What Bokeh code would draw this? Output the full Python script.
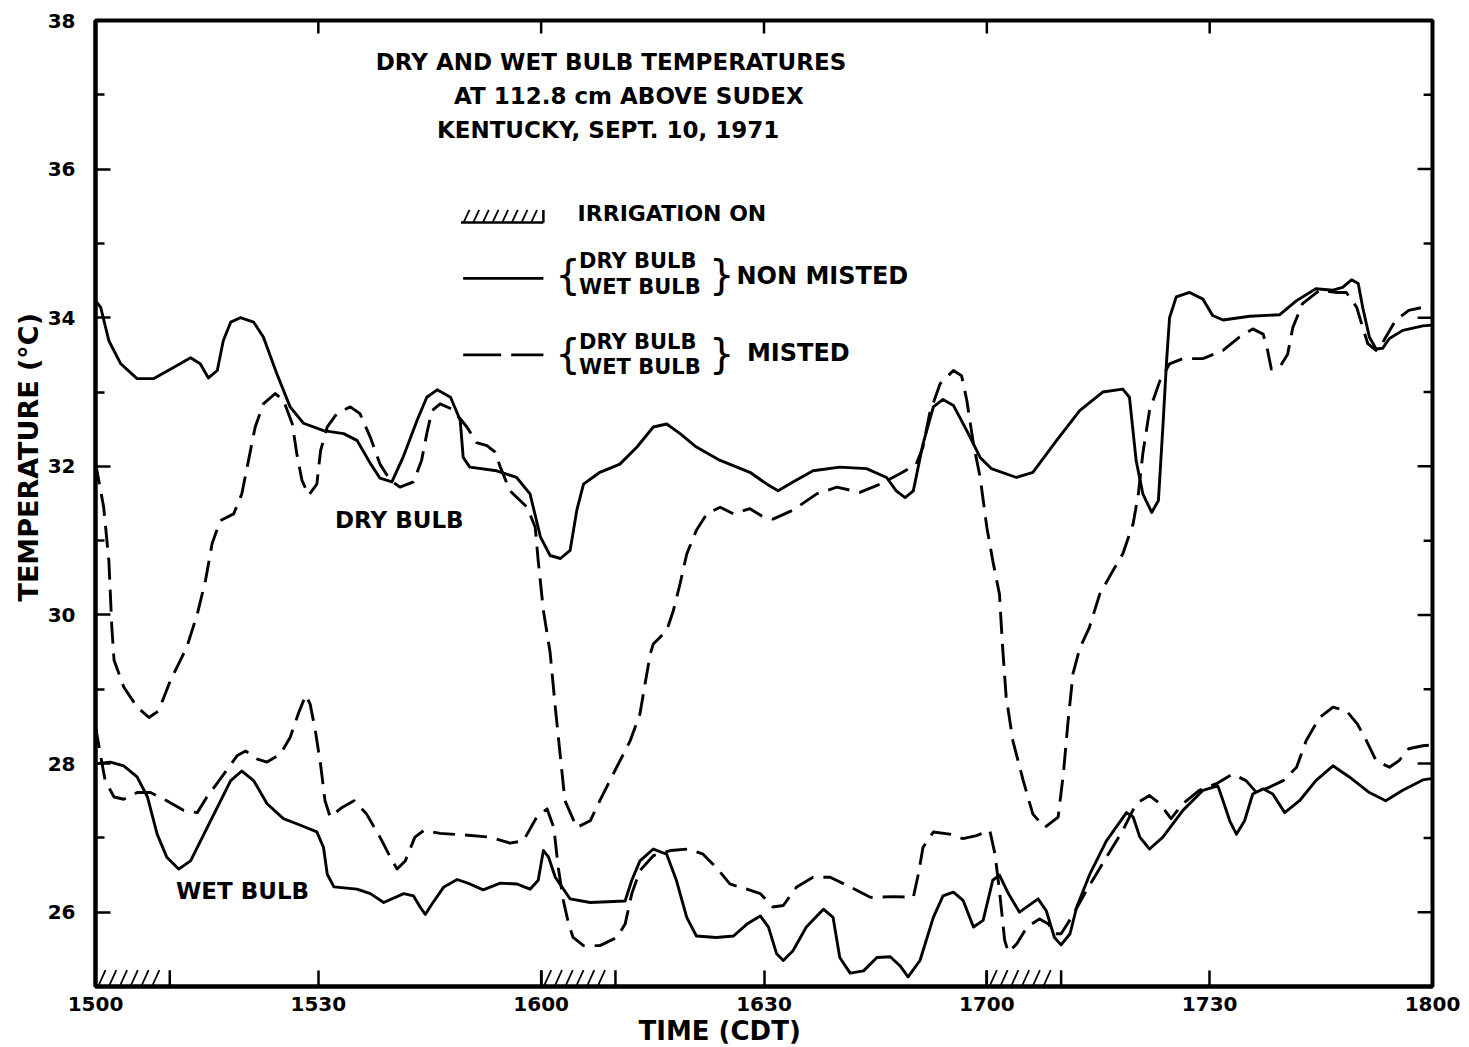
import numpy as np
from bokeh.plotting import figure
from bokeh.models import Range1d, FixedTicker, Label, Title
from bokeh.embed import file_html
from bokeh.resources import INLINE

# ---- data (time in minutes after 15:00 CDT, temperature in deg C) ----
dry_non_t = [0, 0.7, 1.8, 3.4, 5.6, 7.8, 10.5, 12.8, 14.1, 15.2, 16.4, 17.2, 18.2, 19.5, 21.3, 22.6,
             24.4, 26.2, 28.0, 30.7, 33.4, 35.2, 37.0, 38.3, 39.9, 41.4, 43.3, 44.6, 46.0, 47.8, 49.1,
             49.5, 50.4, 54.0, 56.7, 58.5, 59.9, 61.2, 62.6, 63.9, 64.8, 65.7, 67.9, 70.6, 72.9, 75.1,
             76.9, 78.7, 80.9, 84.1, 88.1, 90.4, 91.9, 93.9, 96.6, 100.2, 103.8, 106.5, 107.8, 109.0,
             110.1, 111.4, 112.8, 114.1, 115.5, 117.3, 119.1, 120.6, 124.0, 126.2, 129.4, 132.5, 135.6,
             138.3, 139.2, 140.1, 141.0, 142.2, 143.1, 143.7, 144.2, 144.6, 145.5, 147.3, 149.1, 150.4,
             151.8, 155.4, 159.4, 161.7, 164.3, 166.6, 167.9, 169.1, 170.0, 170.6, 171.5, 172.4, 173.3,
             174.2, 176.0, 178.7, 180]
dry_non_T = [34.23, 34.14, 33.69, 33.38, 33.18, 33.18, 33.33, 33.46, 33.38, 33.19, 33.29, 33.69, 33.94,
             34.00, 33.94, 33.74, 33.25, 32.80, 32.58, 32.48, 32.44, 32.35, 32.04, 31.84, 31.79, 32.12,
             32.62, 32.93, 33.03, 32.93, 32.62, 32.12, 31.99, 31.94, 31.85, 31.63, 31.05, 30.80, 30.76,
             30.87, 31.41, 31.76, 31.92, 32.03, 32.26, 32.53, 32.57, 32.44, 32.26, 32.08, 31.92, 31.76,
             31.67, 31.79, 31.94, 31.99, 31.97, 31.85, 31.67, 31.58, 31.67, 32.30, 32.80, 32.90, 32.82,
             32.48, 32.12, 31.97, 31.85, 31.92, 32.35, 32.75, 33.00, 33.04, 32.93, 32.08, 31.63, 31.38,
             31.54, 32.53, 33.42, 34.00, 34.28, 34.34, 34.25, 34.03, 33.97, 34.02, 34.04, 34.23, 34.39,
             34.37, 34.41, 34.51, 34.46, 34.14, 33.74, 33.58, 33.59, 33.72, 33.83, 33.89, 33.90]

dry_mist_t = [0, 1.1, 1.8, 2.0, 2.2, 2.5, 3.8, 5.6, 7.2, 8.5, 10.1, 12.3, 13.7, 14.8, 15.7, 16.8, 18.6,
              19.7, 20.6, 21.5, 22.6, 24.2, 25.3, 26.5, 27.1, 27.8, 28.7, 29.8, 30.3, 31.2, 32.5, 34.3,
              35.6, 37.0, 38.3, 39.7, 41.0, 42.8, 43.9, 44.6, 45.3, 46.4, 48.0, 49.1, 50.0, 51.3, 52.7,
              53.8, 54.5, 55.8, 58.1, 59.2, 59.6, 60.3, 61.2, 61.9, 62.6, 63.2, 64.8, 66.6, 67.9, 69.7,
              72.0, 73.3, 74.0, 74.7, 75.1, 76.9, 77.8, 78.7, 79.6, 80.9, 82.3, 84.1, 85.9, 88.1, 89.9,
              91.2, 93.9, 97.1, 99.8, 102.9, 105.6, 108.3, 110.5, 111.4, 112.3, 113.7, 115.5, 116.6,
              117.3, 118.2, 119.1, 120.0, 120.8, 121.7, 122.1, 122.6, 123.5, 124.9, 126.2, 127.8, 129.6,
              130.3, 130.9, 131.6, 132.5, 133.8, 135.2, 137.0, 138.3, 139.7, 140.4, 141.0, 141.9, 143.3,
              144.6, 146.4, 149.1, 151.8, 154.0, 155.8, 157.2, 157.8, 158.3, 159.4, 160.5, 161.2, 162.5,
              164.8, 167.1, 168.4, 169.8, 170.6, 171.3, 172.4, 173.3, 175.0, 176.8, 178.7, 180]
dry_mist_T = [32.05, 31.45, 30.73, 30.28, 29.83, 29.39, 29.03, 28.76, 28.62, 28.71, 29.12, 29.57, 30.01,
              30.46, 30.96, 31.27, 31.36, 31.63, 32.08, 32.53, 32.84, 32.98, 32.89, 32.57, 32.17, 31.81,
              31.61, 31.76, 32.21, 32.53, 32.71, 32.80, 32.71, 32.39, 32.03, 31.81, 31.72, 31.79, 32.08,
              32.44, 32.75, 32.84, 32.77, 32.64, 32.53, 32.32, 32.28, 32.19, 31.99, 31.67, 31.45, 31.18,
              30.73, 30.06, 29.50, 28.76, 28.08, 27.50, 27.14, 27.23, 27.50, 27.86, 28.31, 28.67, 29.08,
              29.48, 29.61, 29.79, 30.06, 30.42, 30.82, 31.14, 31.36, 31.45, 31.36, 31.43, 31.32, 31.29,
              31.41, 31.63, 31.72, 31.65, 31.76, 31.90, 32.03, 32.26, 32.71, 33.11, 33.29, 33.22, 32.89,
              32.30, 31.85, 31.18, 30.73, 30.28, 29.60, 28.90, 28.31, 27.77, 27.32, 27.14, 27.28, 27.86,
              28.53, 29.21, 29.55, 29.83, 30.28, 30.60, 30.82, 31.23, 31.63, 32.17, 32.75, 33.15, 33.38,
              33.45, 33.45, 33.56, 33.74, 33.85, 33.78, 33.56, 33.31, 33.33, 33.51, 33.87, 34.19, 34.37,
              34.34, 34.34, 34.14, 33.87, 33.65, 33.56, 33.67, 33.96, 34.10, 34.14, 34.15]

wet_non_t = [0, 2.0, 3.8, 5.6, 7.0, 8.3, 9.6, 11.2, 12.8, 14.6, 16.4, 18.2, 19.7, 21.3, 23.1, 25.3,
             27.6, 29.8, 30.7, 31.2, 32.1, 35.2, 37.0, 38.8, 41.5, 42.8, 43.7, 44.4, 45.3, 46.9, 48.7,
             50.4, 52.2, 54.5, 56.7, 58.5, 59.6, 60.3, 61.0, 61.9, 63.9, 66.6, 71.3, 72.2, 73.3, 75.1,
             76.9, 78.2, 79.6, 80.9, 83.6, 85.9, 87.7, 89.5, 90.6, 91.7, 92.6, 93.9, 95.7, 98.0, 99.3,
             100.2, 101.6, 103.4, 105.2, 107.0, 108.3, 109.4, 111.0, 112.8, 114.1, 115.5, 116.8, 118.2,
             119.5, 120.8, 121.7, 122.9, 124.4, 126.9, 128.0, 129.1, 130.0, 131.2, 132.1, 133.9, 136.1,
             138.8, 139.7, 140.6, 141.9, 143.7, 146.4, 149.1, 151.1, 151.8, 152.7, 153.6, 154.7, 155.8,
             157.2, 158.5, 160.1, 162.1, 164.3, 166.6, 168.8, 171.5, 173.7, 176.0, 178.7, 180]
wet_non_T = [28.00, 28.02, 27.97, 27.82, 27.55, 27.05, 26.74, 26.58, 26.69, 27.05, 27.41, 27.77, 27.90,
             27.77, 27.46, 27.26, 27.17, 27.08, 26.87, 26.51, 26.34, 26.31, 26.25, 26.13, 26.25, 26.22,
             26.07, 25.97, 26.11, 26.34, 26.44, 26.38, 26.30, 26.39, 26.38, 26.31, 26.43, 26.83, 26.74,
             26.47, 26.18, 26.13, 26.15, 26.43, 26.69, 26.85, 26.78, 26.43, 25.93, 25.68, 25.66, 25.68,
             25.84, 25.95, 25.80, 25.44, 25.35, 25.48, 25.80, 26.04, 25.93, 25.39, 25.18, 25.21, 25.39,
             25.40, 25.28, 25.13, 25.35, 25.93, 26.22, 26.27, 26.16, 25.80, 25.89, 26.43, 26.50, 26.25,
             26.00, 26.18, 26.02, 25.66, 25.56, 25.71, 26.07, 26.52, 26.96, 27.34, 27.28, 27.01, 26.85,
             27.01, 27.37, 27.64, 27.70, 27.50, 27.23, 27.05, 27.23, 27.59, 27.66, 27.59, 27.34, 27.50,
             27.77, 27.97, 27.82, 27.61, 27.50, 27.64, 27.78, 27.80]

wet_mist_t = [0, 0.7, 1.3, 2.5, 3.8, 5.6, 7.4, 9.6, 11.9, 13.7, 15.0, 17.3, 19.1, 20.2, 21.8, 23.1,
              24.9, 26.2, 27.3, 28.3, 28.9, 29.6, 30.3, 30.9, 31.6, 33.2, 34.8, 36.5, 38.3, 39.7, 40.6,
              41.7, 43.0, 44.2, 46.4, 49.5, 53.1, 55.8, 57.6, 59.4, 60.8, 61.7, 62.3, 63.0, 63.7, 64.3,
              65.7, 67.9, 70.2, 71.3, 72.2, 73.3, 75.1, 77.4, 79.8, 81.8, 83.6, 85.4, 87.7, 89.5, 91.2,
              92.6, 94.4, 96.6, 98.9, 101.6, 104.3, 107.4, 110.1, 110.8, 111.4, 112.8, 115.0, 116.8,
              118.6, 120.4, 121.1, 121.7, 122.4, 122.9, 124.0, 125.4, 127.1, 128.3, 129.1, 130.0, 131.4,
              133.4, 136.1, 138.3, 140.1, 141.9, 143.3, 144.8, 146.4, 148.6, 150.9, 153.1, 154.9, 156.3,
              158.0, 159.9, 161.7, 163.0, 164.8, 166.6, 168.4, 169.9, 171.1, 172.4, 174.2, 175.5, 176.8,
              178.7, 180]
wet_mist_T = [28.50, 28.10, 27.77, 27.55, 27.52, 27.61, 27.61, 27.50, 27.37, 27.34, 27.55, 27.86, 28.11,
              28.17, 28.06, 28.02, 28.13, 28.35, 28.67, 28.92, 28.80, 28.44, 27.99, 27.50, 27.28, 27.41,
              27.50, 27.32, 27.01, 26.74, 26.58, 26.69, 27.01, 27.10, 27.06, 27.04, 27.01, 26.93, 26.96,
              27.28, 27.39, 27.14, 26.60, 26.15, 25.84, 25.66, 25.55, 25.55, 25.66, 25.84, 26.25, 26.56,
              26.76, 26.83, 26.85, 26.78, 26.60, 26.38, 26.31, 26.25, 26.07, 26.09, 26.34, 26.47, 26.47,
              26.34, 26.20, 26.21, 26.20, 26.52, 26.87, 27.08, 27.05, 26.99, 27.03, 27.10, 26.78, 26.29,
              25.62, 25.46, 25.57, 25.80, 25.91, 25.84, 25.71, 25.71, 25.93, 26.29, 26.74, 27.10, 27.46,
              27.57, 27.46, 27.26, 27.46, 27.64, 27.73, 27.86, 27.77, 27.61, 27.68, 27.77, 27.95, 28.31,
              28.62, 28.76, 28.71, 28.53, 28.31, 28.04, 27.95, 28.04, 28.20, 28.24, 28.25]

irrig_start = [0, 60, 120]
irrig_end = [10, 70, 130]

x_tick_vals = [0, 30, 60, 90, 120, 150, 180]
x_tick_labels = ["1500", "1530", "1600", "1630", "1700", "1730", "1800"]
y_major = [26, 28, 30, 32, 34, 36, 38]
y_minor = [25, 27, 29, 31, 33, 35, 37]

FONT = "DejaVu Sans"
LW = 2.9
DASH = "22 10"

X0, X1, Y0, Y1 = 0, 180, 25, 38
p = figure(width=1469, height=1047, x_range=Range1d(X0, X1), y_range=Range1d(Y0, Y1),
           output_backend="svg", toolbar_location=None,
           min_border_left=95, min_border_right=37, min_border_top=20, min_border_bottom=61)
p.grid.visible = False
p.outline_line_color = "black"
p.outline_line_width = 4
p.background_fill_color = "white"
p.border_fill_color = "white"

xa = p.xaxis[0]
xa.ticker = FixedTicker(ticks=x_tick_vals)
xa.major_label_overrides = {v: s for v, s in zip(x_tick_vals, x_tick_labels)}
xa.axis_line_width = 4
xa.major_tick_in = 16
xa.major_tick_out = 0
xa.major_tick_line_width = 2.5
xa.minor_tick_line_color = None
xa.major_label_text_font = FONT
xa.major_label_text_font_style = "bold"
xa.major_label_text_font_size = "20px"
xa.major_label_text_color = "black"
xa.major_label_standoff = 10

ya = p.yaxis[0]
ya.ticker = FixedTicker(ticks=y_major, minor_ticks=y_minor)
ya.axis_line_width = 4
ya.major_tick_in = 15
ya.major_tick_out = 0
ya.minor_tick_in = 9
ya.minor_tick_out = 0
ya.major_tick_line_width = 2.5
ya.minor_tick_line_width = 2.5
ya.major_label_text_font = FONT
ya.major_label_text_font_style = "bold"
ya.major_label_text_font_size = "20px"
ya.major_label_text_color = "black"
ya.major_label_standoff = 20

# axis titles (placed as side titles so they may be offset like the original)
xt = Title(text="TIME (CDT)", align="left", offset=543, text_font=FONT, text_font_size="26px",
           text_font_style="bold", text_color="black", standoff=0)
p.add_layout(xt, "below")
yt = Title(text="TEMPERATURE (\u00b0C)", align="left", offset=385, text_font=FONT, text_font_size="27px",
           text_font_style="bold", text_color="black", standoff=2)
p.add_layout(yt, "left")

# inward ticks on the top and right frame edges
TOP_LEN, R_MAJ, R_MIN = 0.175, 2.0, 1.2
p.segment(x0=x_tick_vals, y0=[Y1] * len(x_tick_vals), x1=x_tick_vals, y1=[Y1 - TOP_LEN] * len(x_tick_vals),
          line_color="black", line_width=2.5)
p.segment(x0=[X1] * len(y_major), y0=y_major, x1=[X1 - R_MAJ] * len(y_major), y1=y_major,
          line_color="black", line_width=2.5)
p.segment(x0=[X1] * len(y_minor), y0=y_minor, x1=[X1 - R_MIN] * len(y_minor), y1=y_minor,
          line_color="black", line_width=2.5)

# data lines
p.line(dry_non_t, dry_non_T, line_color="black", line_width=LW, line_join="round")
p.line(dry_mist_t, dry_mist_T, line_color="black", line_width=LW, line_dash=DASH, line_join="round")
p.line(wet_non_t, wet_non_T, line_color="black", line_width=LW, line_join="round")
p.line(wet_mist_t, wet_mist_T, line_color="black", line_width=LW, line_dash=DASH, line_join="round")

# hatched bars: slashes derived from each interval
def hatch(starts, ends, bottom, height, step=1.45, slant=1.0, left_edge=True, base=False):
    x0s, y0s, x1s, y1s = [], [], [], []
    for s, e in zip(starts, ends):
        for xb in np.arange(s + 0.35, e - slant + 0.01, step):
            x0s.append(xb); y0s.append(bottom); x1s.append(xb + slant); y1s.append(bottom + height)
    p.segment(x0=x0s, y0=y0s, x1=x1s, y1=y1s, line_color="black", line_width=1.8)
    if left_edge:
        p.segment(x0=starts, y0=[bottom] * len(starts), x1=starts, y1=[bottom + height] * len(starts),
                  line_color="black", line_width=2.5)
    p.segment(x0=ends, y0=[bottom] * len(ends), x1=ends, y1=[bottom + height] * len(ends),
              line_color="black", line_width=2.5)
    if base:
        p.segment(x0=starts, y0=[bottom] * len(starts), x1=ends, y1=[bottom] * len(ends),
                  line_color="black", line_width=2.5)

hatch(irrig_start, irrig_end, Y0, 0.22)

def lab(x, y, text, size, align="left", bold=True, baseline="middle"):
    p.add_layout(Label(x=x, y=y, text=text, text_font=FONT, text_font_size=size,
                       text_font_style="bold" if bold else "normal", text_align=align,
                       text_baseline=baseline, text_color="black"))

# title block
lab(69.4, 37.44, "DRY AND WET BULB TEMPERATURES", "23px", align="center")
lab(71.8, 36.98, "AT 112.8 cm ABOVE SUDEX", "23px", align="center")
lab(69.0, 36.53, "KENTUCKY, SEPT. 10, 1971", "23px", align="center")

# legend: irrigation
hatch([49.2], [60.3], 35.28, 0.17, step=1.3, slant=0.8, left_edge=False, base=True)
lab(64.9, 35.40, "IRRIGATION ON", "22px")

# legend: non misted
p.line([49.5, 60.3], [34.53, 34.53], line_color="black", line_width=LW)
lab(63.6, 34.57, "{", "40px", align="center", bold=False)
lab(65.1, 34.76, "DRY BULB", "21px")
lab(65.1, 34.41, "WET BULB", "21px")
lab(84.3, 34.57, "}", "40px", align="center", bold=False)
lab(86.3, 34.56, "NON MISTED", "24px")

# legend: misted
p.line([49.5, 60.3], [33.50, 33.50], line_color="black", line_width=LW, line_dash="38 10")
lab(63.6, 33.51, "{", "40px", align="center", bold=False)
lab(65.1, 33.68, "DRY BULB", "21px")
lab(65.1, 33.34, "WET BULB", "21px")
lab(84.3, 33.51, "}", "40px", align="center", bold=False)
lab(87.7, 33.52, "MISTED", "24px")

# curve labels
lab(40.9, 31.28, "DRY BULB", "23px", align="center")
lab(19.8, 26.28, "WET BULB", "23px", align="center")

open("out.html", "w").write(file_html(p, INLINE))
